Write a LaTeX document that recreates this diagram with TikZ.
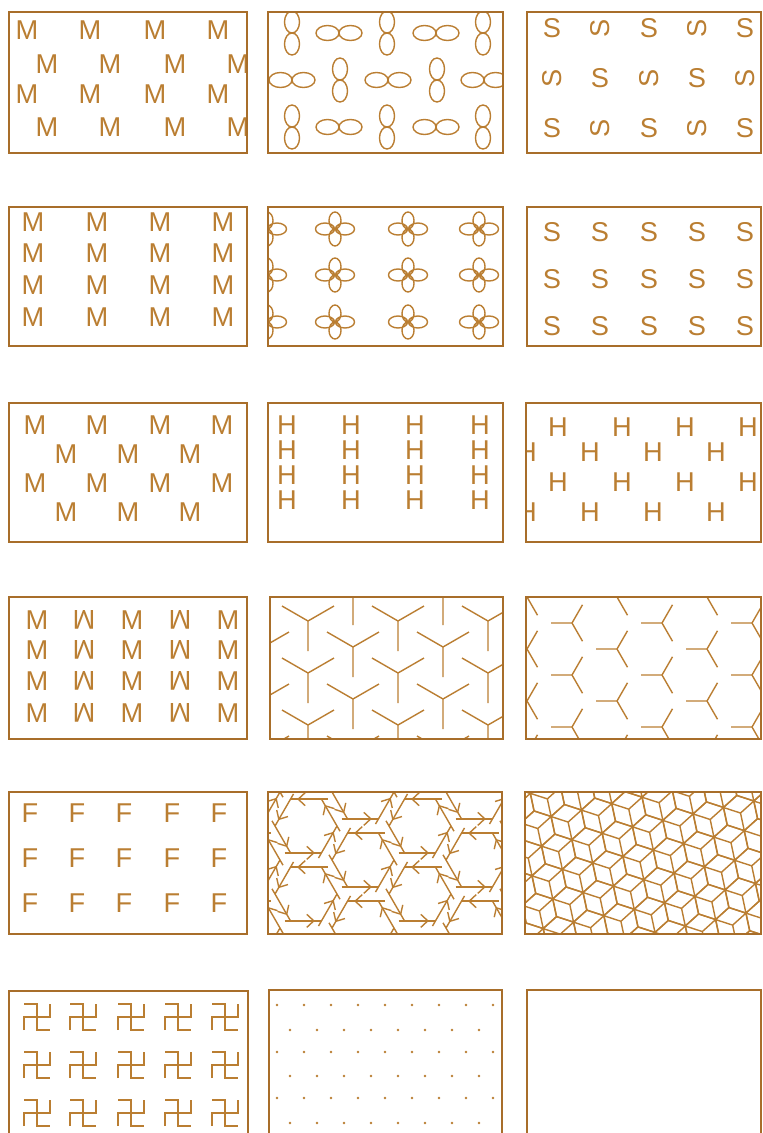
\documentclass[tikz,border=0pt]{standalone}
\usepackage{fontspec}
\setmainfont{Liberation Sans}
\usetikzlibrary{arrows.meta, decorations.markings}
\definecolor{cInk}{RGB}{186,126,50}
\definecolor{cFrame}{RGB}{168,110,42}
\tikzset{
	panel/.style  ={draw=cFrame, line width=0.9pt},
	ink/.style    ={draw=cInk, line width=0.8pt},
	glyph/.style  ={text=cInk, inner sep=0pt, font=\fontsize{15.5}{15.5}\selectfont},
	hexedge/.style={ink, postaction={decorate}, decoration={markings, mark=at position 0.82 with {\arrow{Straight Barb[length=1.4mm, width=2.6mm]}}}},
}
% small motifs, coordinates in pixels of the sheet
\newcommand{\vEight}[2]{\draw[ink] (#1,#2-11) ellipse (7.5 and 11) (#1,#2+11) ellipse (7.5 and 11);}
\newcommand{\hEight}[2]{\draw[ink] (#1-11.5,#2) ellipse (11.5 and 7.5) (#1+11.5,#2) ellipse (11.5 and 7.5);}
\newcommand{\flower}[2]{\draw[ink] (#1-10,#2) ellipse (9.5 and 6) (#1+10,#2) ellipse (9.5 and 6) (#1,#2-8.5) ellipse (6 and 8.5) (#1,#2+8.5) ellipse (6 and 8.5);}
\newcommand{\manji}[2]{\draw[ink] (#1-13,#2+13) -- (#1-13,#2) -- (#1+13,#2) -- (#1+13,#2-13) (#1-13,#2-13) -- (#1,#2-13) -- (#1,#2+13) -- (#1+13,#2+13);}
\begin{document}
\begin{tikzpicture}[x=0.02cm, y=-0.02cm]
\useasboundingbox (0,0) rectangle (763,1133);
% row 1
\begin{scope}
	\clip (9,12) rectangle (247,153);
	\foreach \y/\dx in {30/0, 64/20, 94/0, 127/20}
		\foreach \x in {27,90,155,218}
			\node[glyph] (ma-\x-\y) at (\x+\dx,\y) {M};
\end{scope}
\draw[panel] (9,12) rectangle (247,153);
\begin{scope}
	\clip (268,12) rectangle (503,153);
	\foreach \y in {33,127} {
		\foreach \x in {292,387,483} {\vEight{\x}{\y}}
		\foreach \x in {339,436} {\hEight{\x}{\y}}
	}
	\foreach \x in {292,388,484} {\hEight{\x}{80}}
	\foreach \x in {340,437} {\vEight{\x}{80}}
\end{scope}
\draw[panel] (268,12) rectangle (503,153);
\begin{scope}
	\clip (527,12) rectangle (761,153);
	\foreach \y/\s in {28/0, 78/1, 128/0}
		\foreach \x [count=\k] in {552,600,649,697,745} {
			\pgfmathtruncatemacro{\turn}{mod(\k+\s,2)}
			\node[glyph, rotate=90*(1-\turn)] (sa-\x-\y) at (\x,\y) {S};
		}
\end{scope}
\draw[panel] (527,12) rectangle (761,153);
% row 2
\begin{scope}
	\clip (9,207) rectangle (247,346);
	\foreach \y in {222,253,285,317}
		\foreach \x in {33,97,160,223}
			\node[glyph] (mb-\x-\y) at (\x,\y) {M};
\end{scope}
\draw[panel] (9,207) rectangle (247,346);
\begin{scope}
	\clip (268,207) rectangle (503,346);
	\foreach \y in {229,275,322}
		\foreach \x in {267,335,408,479} {\flower{\x}{\y}}
\end{scope}
\draw[panel] (268,207) rectangle (503,346);
\begin{scope}
	\clip (527,207) rectangle (761,346);
	\foreach \y in {232,279,326}
		\foreach \x in {552,600,649,697,745}
			\node[glyph] (sb-\x-\y) at (\x,\y) {S};
\end{scope}
\draw[panel] (527,207) rectangle (761,346);
% row 3
\begin{scope}
	\clip (9,403) rectangle (247,542);
	\foreach \y in {425,483}
		\foreach \x in {35,97,160,222}
			\node[glyph] (mc-\x-\y) at (\x,\y) {M};
	\foreach \y in {454,512}
		\foreach \x in {66,128,190}
			\node[glyph] (md-\x-\y) at (\x,\y) {M};
\end{scope}
\draw[panel] (9,403) rectangle (247,542);
\begin{scope}
	\clip (268,403) rectangle (503,542);
	\foreach \y in {425,450,475,500}
		\foreach \x in {287,351,415,480}
			\node[glyph] (ha-\x-\y) at (\x,\y) {H};
\end{scope}
\draw[panel] (268,403) rectangle (503,542);
\begin{scope}
	\clip (526,403) rectangle (761,542);
	\foreach \y in {427,482}
		\foreach \x in {558,622,685,748}
			\node[glyph] (hb-\x-\y) at (\x,\y) {H};
	\foreach \y in {452,512}
		\foreach \x in {527,590,653,716}
			\node[glyph] (hc-\x-\y) at (\x,\y) {H};
\end{scope}
\draw[panel] (526,403) rectangle (761,542);
% row 4
\begin{scope}
	\clip (9,597) rectangle (247,739);
	\foreach \y in {620,650,681,713} {
		\foreach \x in {37,132,228}
			\node[glyph] (me-\x-\y) at (\x,\y) {M};
		\foreach \x in {84,180}
			\node[glyph, rotate=180] (w-\x-\y) at (\x,\y) {M};
	}
\end{scope}
\draw[panel] (9,597) rectangle (247,739);
\begin{scope}
	\clip (270,597) rectangle (503,739);
	\foreach \j in {-1,...,5}
		\foreach \i in {-4,...,3} {
			\pgfmathsetmacro{\cx}{308+90*\i+45*\j}
			\pgfmathsetmacro{\cy}{621+26*\j}
			\draw[ink] (\cx,\cy) -- ++(0,30) (\cx,\cy) -- ++(-26,-15) (\cx,\cy) -- ++(26,-15);
		}
\end{scope}
\draw[panel] (270,597) rectangle (503,739);
\begin{scope}
	\clip (526,597) rectangle (761,739);
	\foreach \j in {-1,...,5}
		\foreach \i in {-4,...,3} {
			\pgfmathsetmacro{\cx}{572+90*\i+45*\j}
			\pgfmathsetmacro{\cy}{623+26*\j}
			\draw[ink] (\cx,\cy) -- ++(-21,0) (\cx,\cy) -- ++(10.5,-18.2) (\cx,\cy) -- ++(10.5,18.2);
		}
\end{scope}
\draw[panel] (526,597) rectangle (761,739);
% row 5
\begin{scope}
	\clip (9,792) rectangle (247,934);
	\foreach \y in {813,858,903}
		\foreach \x in {30,77,124,172,219}
			\node[glyph] (f-\x-\y) at (\x,\y) {F};
\end{scope}
\draw[panel] (9,792) rectangle (247,934);
\begin{scope}
	\clip (268,792) rectangle (502,934);
	\foreach \j in {-1,...,3}
		\foreach \i in {-3,...,2} {
			\pgfmathsetmacro{\cx}{306+114*\i+57*\j}
			\pgfmathsetmacro{\cy}{826+34*\j}
			\begin{scope}[shift={(\cx,\cy)}]
				\foreach \k in {0,...,5}
					\draw[hexedge] (60*\k+60:31) ++(60*\k+120:6) -- (60*\k:31);
			\end{scope}
		}
\end{scope}
\draw[panel] (268,792) rectangle (502,934);
\begin{scope}
	\clip (525,792) rectangle (761,934);
	\begin{scope}[shift={(640,862)}, rotate=12]
		\foreach \j in {-5,...,5}
			\foreach \i in {-7,...,7} {
				\pgfmathsetmacro{\cx}{31*\i+15.5*\j}
				\pgfmathsetmacro{\cy}{27*\j}
				\draw[ink] (\cx,\cy) +(30:18) -- +(90:18) -- +(150:18) -- +(210:18) -- +(270:18) -- +(330:18) -- cycle
					(\cx,\cy) -- +(90:18) (\cx,\cy) -- +(210:18) (\cx,\cy) -- +(330:18);
			}
	\end{scope}
\end{scope}
\draw[panel] (525,792) rectangle (761,934);
% row 6
\begin{scope}
	\clip (9,991) rectangle (248,1150);
	\foreach \y in {1017,1065,1113}
		\foreach \x in {37,83,131,178,225} {\manji{\x}{\y}}
\end{scope}
\draw[panel] (9,991) rectangle (248,1150);
\foreach \y in {1005,1052,1098}
	\foreach \x in {277,304,...,493}
		\fill[cInk] (\x,\y) circle (1.3);
\foreach \y in {1030,1076,1123}
	\foreach \x in {290,317,...,479}
		\fill[cInk] (\x,\y) circle (1.3);
\draw[panel] (269,990) rectangle (502,1150);
\draw[panel] (527,990) rectangle (761,1150);
\end{tikzpicture}
\end{document}
